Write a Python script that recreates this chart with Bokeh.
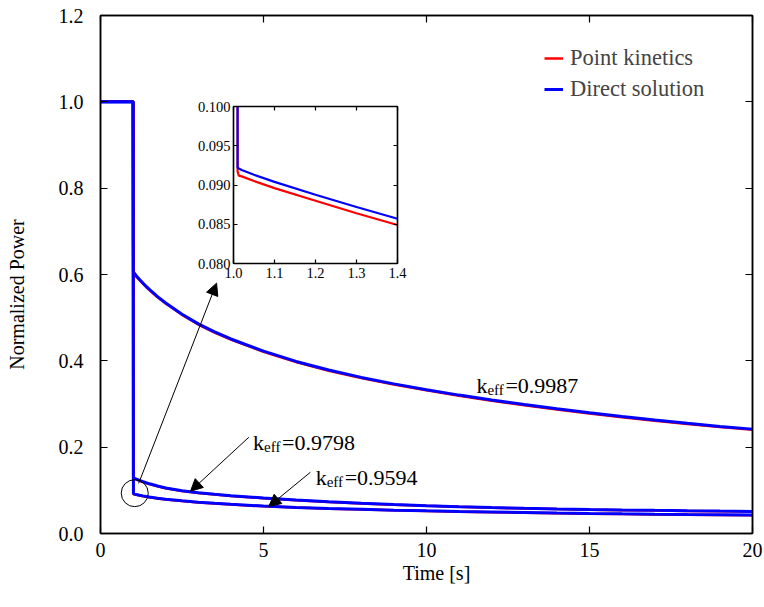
from bokeh.plotting import figure
from bokeh.models import (Range1d, LinearAxis, Legend, LegendItem, Arrow, NormalHead,
                          Label, FixedTicker, NumeralTickFormatter)
from bokeh.embed import file_html
from bokeh.resources import INLINE

# ---- data: normalized power after the reactivity step at t = 1 s ----
time = [0.0, 1.0, 1.01, 1.013, 1.02, 1.05, 1.1, 1.2, 1.3, 1.4, 1.5, 1.75,
        2.0, 2.5, 3.0, 3.5, 4.0, 5.0, 6.0, 7.0, 8.0, 9.0, 10.0, 11.0, 12.0,
        13.0, 14.0, 15.0, 16.0, 17.0, 18.0, 19.0, 20.0]

direct_9987 = [1.0, 1.0, 0.6060, 0.6057, 0.6050, 0.6017, 0.5967, 0.5882, 0.5802, 0.5726, 0.5654,
               0.5489, 0.5341, 0.5081, 0.4856, 0.4671, 0.4506, 0.4226, 0.3986, 0.3786, 0.3616,
               0.3466, 0.3331, 0.3206, 0.3091, 0.2986, 0.2888, 0.2796, 0.2710, 0.2629, 0.2553,
               0.2481, 0.2418]
pk_9987 = [1.0, 1.0, 0.6045, 0.6042, 0.6035, 0.6002, 0.5952, 0.5867, 0.5787, 0.5711, 0.5639,
           0.5474, 0.5326, 0.5066, 0.4841, 0.4656, 0.4491, 0.4211, 0.3971, 0.3771, 0.3601,
           0.3451, 0.3316, 0.3191, 0.3076, 0.2971, 0.2873, 0.2781, 0.2695, 0.2614, 0.2538,
           0.2466, 0.2403]

direct_9798 = [1.0, 1.0, 0.1300, 0.1296, 0.1291, 0.1279, 0.1262, 0.1230, 0.1201, 0.1175, 0.1151,
               0.1099, 0.1055, 0.0990, 0.0945, 0.0908, 0.0876, 0.0822, 0.0776, 0.0736, 0.0701,
               0.0671, 0.0645, 0.0622, 0.0602, 0.0585, 0.0570, 0.0557, 0.0546, 0.0536, 0.0527,
               0.0519, 0.0512]
pk_9798 = [1.0, 1.0, 0.1292, 0.1288, 0.1283, 0.1271, 0.1254, 0.1222, 0.1193, 0.1167, 0.1143,
           0.1091, 0.1047, 0.0983, 0.0938, 0.0901, 0.0869, 0.0816, 0.0770, 0.0730, 0.0696,
           0.0666, 0.0640, 0.0617, 0.0597, 0.0580, 0.0565, 0.0552, 0.0541, 0.0531, 0.0522,
           0.0514, 0.0507]

direct_9594 = [1.0, 1.0, 0.0922, 0.0921, 0.0919, 0.0913, 0.0904, 0.08875, 0.0872, 0.0857, 0.0845,
               0.0818, 0.0795, 0.0757, 0.0725, 0.0698, 0.0675, 0.0635, 0.0605, 0.0580, 0.0560,
               0.0541, 0.0525, 0.0510, 0.0497, 0.0485, 0.0474, 0.0464, 0.0455, 0.0447, 0.0440,
               0.0434, 0.0428]
pk_9594 = [1.0, 1.0, 0.0917, 0.0912, 0.0911, 0.0905, 0.0896, 0.0880, 0.0864, 0.0849, 0.0838,
           0.0811, 0.0789, 0.0751, 0.0720, 0.0693, 0.0670, 0.0630, 0.0601, 0.0576, 0.0556,
           0.0537, 0.0521, 0.0506, 0.0493, 0.0481, 0.0470, 0.0460, 0.0451, 0.0443, 0.0436,
           0.0430, 0.0424]

x_ticks = [0, 5, 10, 15, 20]
y_ticks = [0.0, 0.2, 0.4, 0.6, 0.8, 1.0, 1.2]
inset_x_ticks = [1.0, 1.1, 1.2, 1.3, 1.4]
inset_y_ticks = [0.080, 0.085, 0.090, 0.095, 0.100]

# label annotations: (k_eff text, anchor x, anchor y)
keff_labels = [("=0.9987", 11.53, 0.343),
               ("=0.9798", 4.68, 0.2115),
               ("=0.9594", 6.60, 0.1304)]
# arrows: (x_start, y_start, x_end, y_end)
arrows = [(1.17, 0.116, 3.56, 0.580),
          (4.55, 0.223, 2.76, 0.098),
          (6.44, 0.142, 5.16, 0.0625)]
zoom_spot = (1.05, 0.0934)

FONT = "Liberation Serif"
RED = "#ff0000"
BLUE = "#0000ff"
NBSP = "\u00a0"

pairs = [(pk_9987, direct_9987), (pk_9798, direct_9798), (pk_9594, direct_9594)]


def style_axis(ax, size, tick_len, show_labels=True):
    ax.axis_line_color = "black"
    ax.axis_line_width = 1.5
    ax.major_tick_in = tick_len
    ax.major_tick_out = 0
    ax.major_tick_line_width = 1.2
    ax.minor_tick_line_color = None
    ax.major_label_text_font = FONT
    ax.major_label_text_font_size = size
    ax.major_label_text_color = "black"
    if not show_labels:
        ax.major_label_text_font_size = "0px"
        ax.major_label_text_alpha = 0


# ---- main figure ----
p = figure(width=764, height=607, output_backend="svg", toolbar_location=None,
           x_range=Range1d(0, 20), y_range=Range1d(0, 1.2),
           min_border_left=100, min_border_right=12, min_border_top=15, min_border_bottom=74)
p.styles = {"position": "absolute", "left": "0px", "top": "0px"}
p.grid.visible = False
p.outline_line_color = "black"
p.outline_line_width = 1.5
p.background_fill_color = "white"
p.border_fill_color = "white"

p.xaxis.ticker = FixedTicker(ticks=x_ticks)
p.yaxis.ticker = FixedTicker(ticks=y_ticks)
p.xaxis.formatter = NumeralTickFormatter(format="0")
p.yaxis.formatter = NumeralTickFormatter(format="0.0")
style_axis(p.xaxis[0], "20px", 7)
style_axis(p.yaxis[0], "20px", 7)
p.xaxis.major_label_standoff = 9
p.yaxis.major_label_standoff = 17

# axis titles sit a little off the frame centre, hence the padding spaces
p.xaxis.axis_label = NBSP * 4 + "Time [s]"
p.yaxis.axis_label = "Normalized Power" + NBSP * 8
for ax in (p.xaxis[0], p.yaxis[0]):
    ax.axis_label_text_font = FONT
    ax.axis_label_text_font_size = "20px"
    ax.axis_label_text_font_style = "normal"
    ax.axis_label_text_color = "black"
p.xaxis.axis_label_standoff = 2
p.yaxis.axis_label_standoff = 28

top_ax = LinearAxis(ticker=FixedTicker(ticks=x_ticks))
right_ax = LinearAxis(ticker=FixedTicker(ticks=y_ticks))
style_axis(top_ax, "20px", 7, show_labels=False)
style_axis(right_ax, "20px", 7, show_labels=False)
p.add_layout(top_ax, "above")
p.add_layout(right_ax, "right")

legend_refs = None
for pk, direct in pairs:
    r_pk = p.line(time, pk, line_color=RED, line_width=2.5)
    r_dir = p.line(time, direct, line_color=BLUE, line_width=3)
    if legend_refs is None:
        legend_refs = (r_pk, r_dir)

legend = Legend(items=[LegendItem(label="Point kinetics", renderers=[legend_refs[0]]),
                       LegendItem(label="Direct solution", renderers=[legend_refs[1]])],
                location=(444, 431), orientation="vertical",
                label_text_font=FONT, label_text_font_size="22.5px",
                glyph_width=19, glyph_height=20, label_standoff=7, spacing=5,
                padding=0, margin=0, border_line_color=None, background_fill_alpha=0)
p.add_layout(legend, "center")

# zoomed region marker and pointers
p.circle(x=[zoom_spot[0]], y=[zoom_spot[1]], radius=13.5, radius_units="screen",
         fill_color=None, line_color="black", line_width=1)
for xs, ys, xe, ye in arrows:
    p.add_layout(Arrow(x_start=xs, y_start=ys, x_end=xe, y_end=ye,
                       line_color="black", line_width=1,
                       end=NormalHead(size=12, fill_color="black", line_color="black")))

for text, lx, ly in keff_labels:
    p.add_layout(Label(x=lx, y=ly, text="k", text_font=FONT, text_font_size="22px",
                       text_baseline="alphabetic", text_color="black"))
    p.add_layout(Label(x=lx, y=ly, x_offset=11, y_offset=-5, text="eff", text_font=FONT,
                       text_font_size="15px", text_baseline="alphabetic", text_color="black"))
    p.add_layout(Label(x=lx, y=ly, x_offset=29, text=text, text_font=FONT,
                       text_font_size="22px", text_baseline="alphabetic", text_color="black"))

# ---- inset: close-up of the prompt drop for k_eff = 0.9594 ----
inset = figure(width=218, height=192, output_backend="svg", toolbar_location=None,
               x_range=Range1d(1.0, 1.4), y_range=Range1d(0.080, 0.100),
               min_border_left=40, min_border_right=14, min_border_top=10, min_border_bottom=25)
inset.styles = {"position": "absolute", "left": "193px", "top": "96px"}
inset.grid.visible = False
inset.outline_line_color = "black"
inset.outline_line_width = 1.2
inset.background_fill_color = "white"
inset.border_fill_alpha = 0
inset.xaxis.ticker = FixedTicker(ticks=inset_x_ticks)
inset.yaxis.ticker = FixedTicker(ticks=inset_y_ticks)
inset.xaxis.formatter = NumeralTickFormatter(format="0.0")
inset.yaxis.formatter = NumeralTickFormatter(format="0.000")
style_axis(inset.xaxis[0], "14.5px", 4)
style_axis(inset.yaxis[0], "14.5px", 4)
inset.xaxis.major_label_standoff = 4
inset.yaxis.major_label_standoff = 3
inset_top = LinearAxis(ticker=FixedTicker(ticks=inset_x_ticks))
inset_right = LinearAxis(ticker=FixedTicker(ticks=inset_y_ticks))
style_axis(inset_top, "14px", 4, show_labels=False)
style_axis(inset_right, "14px", 4, show_labels=False)
inset.add_layout(inset_top, "above")
inset.add_layout(inset_right, "right")

inset.line(time, pk_9594, line_color=RED, line_width=2.2)
inset.line(time, direct_9594, line_color=BLUE, line_width=2.2)

open("out.html", "w").write(file_html([p, inset], INLINE))
